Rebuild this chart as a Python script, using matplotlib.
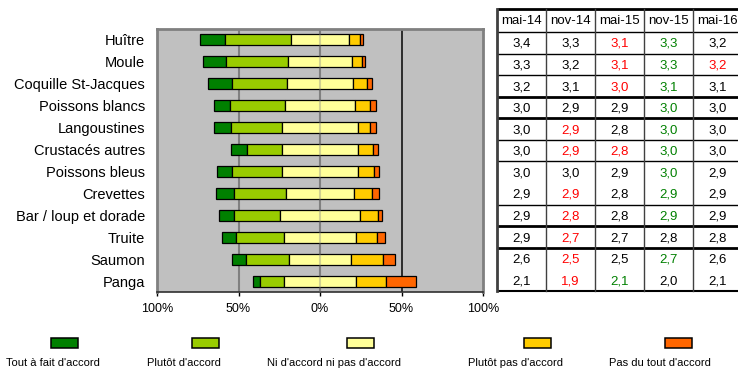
import matplotlib.pyplot as plt
from matplotlib.patches import Rectangle

plt.rcParams["font.family"] = ["Liberation Sans", "DejaVu Sans"]

CATEGORIES = [
    "Huître", "Moule", "Coquille St-Jacques", "Poissons blancs", "Langoustines",
    "Crustacés autres", "Poissons bleus", "Crevettes", "Bar / loup et dorade",
    "Truite", "Saumon", "Panga",
]

# shares of answers (%) per product
TOUT_A_FAIT = [15.3, 14.0, 14.7, 10.0, 10.0, 10.2, 9.6, 10.6, 9.1, 8.6, 8.6, 4.1]
PLUTOT = [40.2, 38.0, 33.7, 33.3, 31.4, 21.2, 30.4, 32.1, 28.0, 29.4, 26.3, 14.5]
NI_NI = [36.0, 39.0, 40.4, 43.4, 46.8, 46.8, 46.8, 41.6, 49.4, 44.4, 38.0, 44.4]
PLUTOT_PAS = [6.5, 6.3, 8.4, 9.0, 7.5, 8.9, 9.6, 11.4, 10.8, 12.9, 19.4, 18.4]
PAS_DU_TOUT = [1.6, 2.1, 3.0, 3.5, 3.5, 3.1, 3.4, 4.1, 2.5, 4.5, 7.5, 18.4]

LEVELS = ["Tout à fait d'accord", "Plutôt d'accord", "Ni d'accord ni pas d'accord",
          "Plutôt pas d'accord", "Pas du tout d'accord"]
COLORS = ["#008000", "#99CC00", "#FFFF99", "#FFCC00", "#FF6600"]

TICKS = [-100, -50, 0, 50, 100]

# mean scores per survey wave, with colour flags (k = same, r = down, g = up)
WAVES = ["mai-14", "nov-14", "mai-15", "nov-15", "mai-16"]
MAI14 = [3.4, 3.3, 3.2, 3.0, 3.0, 3.0, 3.0, 2.9, 2.9, 2.9, 2.6, 2.1]
NOV14 = [3.3, 3.2, 3.1, 2.9, 2.9, 2.9, 3.0, 2.9, 2.8, 2.7, 2.5, 1.9]
MAI15 = [3.1, 3.1, 3.0, 2.9, 2.8, 2.8, 2.9, 2.8, 2.8, 2.7, 2.5, 2.1]
NOV15 = [3.3, 3.3, 3.1, 3.0, 3.0, 3.0, 3.0, 2.9, 2.9, 2.8, 2.7, 2.0]
MAI16 = [3.2, 3.2, 3.1, 3.0, 3.0, 3.0, 2.9, 2.9, 2.9, 2.8, 2.6, 2.1]
FLAGS = [
    "kkrgk", "kkrgr", "kkrgk", "kkkgk", "krkgk", "krrgk",
    "kkkgk", "krkgk", "krkgk", "krkkk", "krkgk", "krgkk",
]
FLAG_COLORS = {"k": "black", "r": "#FF0000", "g": "#008000"}

W, H = 738, 371
fig = plt.figure(figsize=(W / 100, H / 100), dpi=100)

# --- diverging bars ---
ax = fig.add_axes([157 / W, 79 / H, 326 / W, 263 / H])
ax.set_facecolor("#C0C0C0")
series = [TOUT_A_FAIT, PLUTOT, NI_NI, PLUTOT_PAS, PAS_DU_TOUT]
ypos = list(range(len(CATEGORIES)))
for i in ypos:
    left = -(TOUT_A_FAIT[i] + PLUTOT[i] + NI_NI[i] / 2)
    for vals, col in zip(series, COLORS):
        ax.barh(i, vals[i], left=left, height=0.5, color=col,
                edgecolor="black", linewidth=0.9, zorder=3)
        left += vals[i]

ax.axvline(-50, color="#808080", lw=1.5, zorder=1)
ax.axvline(0, color="#808080", lw=1.5, zorder=1)
ax.axvline(0, color="#808080", lw=1.5, alpha=0.35, zorder=4)
ax.axvline(50, color="#202020", lw=1.3, zorder=1)

ax.set_xlim(-100, 100)
ax.set_ylim(len(CATEGORIES) - 0.5, -0.5)
ax.set_xticks(TICKS)
ax.set_xticklabels([f"{abs(t)}%" for t in TICKS], fontsize=9)
ax.set_yticks(ypos)
ax.set_yticklabels(CATEGORIES, fontsize=10.5)
ax.tick_params(axis="y", length=0, pad=8.5)
ax.tick_params(axis="x", length=3, width=1, pad=5, color="black")
for side in ["top", "left", "right"]:
    ax.spines[side].set_color("#808080")
    ax.spines[side].set_linewidth(2)
ax.spines["bottom"].set_color("#303030")
ax.spines["bottom"].set_linewidth(1.2)

# --- legend along the bottom ---
box_left = [51, 192, 347, 524, 665]
text_center = [53, 184, 334, 515, 660]
for col, label, bx, tx in zip(COLORS, LEVELS, box_left, text_center):
    fig.add_artist(Rectangle((bx / W, 1 - 348 / H), 27 / W, 10 / H,
                             transform=fig.transFigure, facecolor=col,
                             edgecolor="black", linewidth=1.1))
    fig.text(tx / W, 1 - 358 / H, label, ha="center", va="top", fontsize=8)

# --- score table ---
hh = 23 / 21.6
nrows = len(CATEGORIES)
tab = fig.add_axes([497 / W, 80 / H, 245 / W, 282 / H])
tab.set_xlim(0, 5)
tab.set_ylim(nrows + hh, 0)
tab.axis("off")

for j, w in enumerate(WAVES):
    tab.text(j + 0.5, hh / 2 + 0.03, w, ha="center", va="center", fontsize=9.5)

columns = [MAI14, NOV14, MAI15, NOV15, MAI16]
for i in range(nrows):
    for j, vals in enumerate(columns):
        txt = f"{vals[i]:.1f}".replace(".", ",")
        tab.text(j + 0.5, hh + i + 0.55, txt, ha="center", va="center",
                 fontsize=9.5, color=FLAG_COLORS[FLAGS[i][j]])

line_kw = dict(color="black", clip_on=False, solid_capstyle="butt")
tab.plot([0, 5], [0, 0], lw=2, **line_kw)
tab.plot([0, 5], [hh, hh], lw=1, **line_kw)
thin_after = [0, 1, 4, 5, 7]
thick_after = [2, 3, 8, 9]
for r in thin_after:
    tab.plot([0, 5], [hh + r + 1] * 2, lw=1, **line_kw)
for r in thick_after:
    tab.plot([0, 5], [hh + r + 1] * 2, lw=2, **line_kw)
tab.plot([0, 5], [hh + nrows] * 2, lw=1.5, **line_kw)
tab.plot([0, 0], [0, hh + nrows], lw=2, color="#404040", clip_on=False)
for c in range(1, 5):
    tab.plot([c, c], [0, hh + nrows], lw=1, color="#404040", clip_on=False)

fig.savefig("out.png", dpi=100)
